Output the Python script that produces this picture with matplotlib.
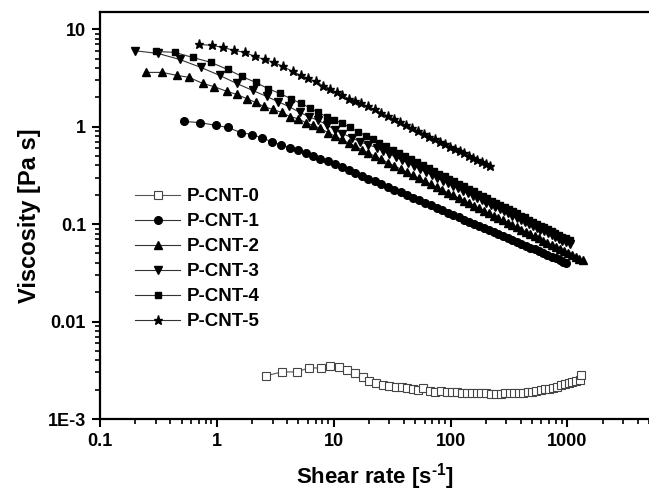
import numpy as np
import matplotlib
matplotlib.use("Agg")
import matplotlib.pyplot as plt
from matplotlib.ticker import LogLocator, NullFormatter

plt.rcParams['font.family'] = ['Liberation Sans', 'DejaVu Sans']
plt.rcParams['font.weight'] = 'bold'
plt.rcParams['mathtext.fontset'] = 'custom'
plt.rcParams['mathtext.rm'] = 'Liberation Sans:bold'
plt.rcParams['mathtext.bf'] = 'Liberation Sans:bold'

# P-CNT-0 (open squares)
x0 = [2.62, 3.59, 4.83, 6.11, 7.74, 9.24, 11.0, 12.9, 15.1, 17.7, 19.9, 22.9, 26.2, 29.5,
      33.9, 38.1, 42.1, 47.3, 53.2, 58.7, 66.2, 73.0, 82.2, 92.5, 102, 113, 125, 138, 152,
      167, 184, 202, 222, 244, 268, 294, 322, 352, 385, 420, 458, 499, 543, 590, 640, 694,
      752, 814, 880, 950, 1025, 1105, 1190, 1290, 1310]
y0 = [0.00277, 0.00304, 0.00304, 0.00334, 0.00334, 0.00351, 0.00342, 0.00319, 0.00297,
      0.00270, 0.00246, 0.00234, 0.00224, 0.00218, 0.00213, 0.00213, 0.00208, 0.00203,
      0.00199, 0.00208, 0.00194, 0.00190, 0.00194, 0.00190, 0.00189, 0.00188, 0.00186,
      0.00186, 0.00185, 0.00184, 0.00183, 0.00183, 0.00182, 0.00182, 0.00182, 0.00183,
      0.00184, 0.00185, 0.00186, 0.00187, 0.00189, 0.00191, 0.00194, 0.00197, 0.00201,
      0.00205, 0.00210, 0.00215, 0.00221, 0.00227, 0.00233, 0.00240, 0.00247, 0.00252,
      0.00280]

# P-CNT-1 (filled circles)
x1 = [0.52, 0.72, 0.98, 1.24, 1.60, 1.99, 2.42, 2.95, 3.52, 4.2, 4.92, 5.77, 6.62, 7.7, 8.9,
      10.2, 11.7, 13.4, 15.3, 17.4, 19.8, 22.5, 25.5, 29, 33, 37.5, 42.5, 48, 54, 61, 68, 76,
      85, 95, 106, 118, 131, 145, 160, 176, 194, 213, 234, 257, 282, 309, 338, 370, 404, 441,
      481, 524, 570, 620, 674, 732, 794, 861, 920, 980]
y1 = [1.13, 1.10, 1.03, 0.98, 0.87, 0.83, 0.77, 0.70, 0.65, 0.61, 0.57, 0.54, 0.50, 0.47, 0.44,
      0.410, 0.383, 0.357, 0.334, 0.313, 0.293, 0.274, 0.257, 0.241, 0.226, 0.211, 0.198,
      0.186, 0.175, 0.165, 0.156, 0.147, 0.139, 0.131, 0.124, 0.117, 0.111, 0.106, 0.100,
      0.0959, 0.0912, 0.0870, 0.0829, 0.0790, 0.0754, 0.0720, 0.0688, 0.0657, 0.0628, 0.0600,
      0.0574, 0.0550, 0.0527, 0.0505, 0.0483, 0.0463, 0.0444, 0.0426, 0.0412, 0.0399]

# P-CNT-2 (up triangles)
x2 = [0.247, 0.339, 0.46, 0.58, 0.76, 0.94, 1.22, 1.48, 1.80, 2.15, 2.52, 3.01, 3.59, 4.2,
      4.92, 5.77, 6.62, 7.7, 8.9, 10.2, 11.7, 13.4, 15.3, 17.4, 19.8, 22.5, 25.5, 29, 33,
      37.5, 42.5, 48, 54, 61, 68, 76, 85, 95, 106, 118, 131, 145, 160, 176, 194, 213, 234,
      257, 282, 309, 338, 370, 404, 441, 481, 524, 570, 620, 674, 732, 794, 861, 933, 1010,
      1090, 1175, 1260, 1350]
y2 = [3.60, 3.60, 3.35, 3.20, 2.77, 2.58, 2.30, 2.14, 1.94, 1.77, 1.61, 1.50, 1.40, 1.27,
      1.21, 1.10, 1.03, 0.96, 0.87, 0.802, 0.738, 0.681, 0.628, 0.582, 0.538, 0.498, 0.462,
      0.428, 0.396, 0.367, 0.340, 0.316, 0.294, 0.274, 0.256, 0.240, 0.224, 0.210, 0.197,
      0.184, 0.173, 0.163, 0.153, 0.145, 0.137, 0.129, 0.122, 0.115, 0.109, 0.103, 0.0978,
      0.0926, 0.0878, 0.0833, 0.0790, 0.0750, 0.0713, 0.0678, 0.0645, 0.0614, 0.0585,
      0.0557, 0.0531, 0.0506, 0.0483, 0.0462, 0.0443, 0.0428]

# P-CNT-3 (down triangles)
x3 = [0.2, 0.313, 0.48, 0.73, 1.06, 1.48, 2.03, 2.67, 3.32, 4.12, 5.12, 6.1, 7.3, 8.7, 10.2,
      11.9, 14.3, 16.7, 19.5, 23.3, 26.5, 30, 34, 38.5, 43.5, 49, 55, 62, 69, 77, 86, 95,
      105, 116, 128, 141, 155, 170, 186, 203, 222, 242, 264, 287, 312, 339, 368, 399, 432,
      467, 505, 545, 588, 633, 681, 732, 786, 843, 903, 967, 1050]
y3 = [6.0, 5.64, 4.89, 4.05, 3.35, 2.77, 2.35, 2.04, 1.81, 1.61, 1.40, 1.27, 1.16, 1.05, 0.93,
      0.85, 0.77, 0.70, 0.655, 0.61, 0.564, 0.524, 0.486, 0.451, 0.419, 0.391, 0.365, 0.340,
      0.319, 0.298, 0.279, 0.263, 0.247, 0.233, 0.219, 0.206, 0.195, 0.184, 0.175, 0.166,
      0.158, 0.150, 0.142, 0.135, 0.129, 0.122, 0.116, 0.111, 0.106, 0.101, 0.0963, 0.0920,
      0.0879, 0.0840, 0.0803, 0.0769, 0.0736, 0.0705, 0.0676, 0.0649, 0.062]

# P-CNT-4 (filled squares)
x4 = [0.30, 0.437, 0.62, 0.89, 1.24, 1.64, 2.15, 2.73, 3.45, 4.29, 5.22, 6.24, 7.3, 8.7, 10.0,
      11.9, 13.7, 16.0, 18.8, 21.5, 24.5, 28, 32, 36, 41, 46, 52, 58, 65, 72, 80, 89, 98,
      108, 119, 131, 144, 158, 173, 189, 206, 225, 245, 267, 290, 315, 342, 371, 402, 435,
      470, 508, 548, 590, 635, 683, 734, 788, 845, 905, 970, 1050]
y4 = [5.91, 5.78, 5.13, 4.56, 3.86, 3.27, 2.84, 2.46, 2.19, 1.94, 1.73, 1.57, 1.40, 1.27, 1.18,
      1.08, 0.98, 0.89, 0.81, 0.74, 0.684, 0.630, 0.581, 0.540, 0.499, 0.465, 0.431, 0.403,
      0.376, 0.353, 0.330, 0.309, 0.291, 0.274, 0.258, 0.243, 0.230, 0.217, 0.205, 0.194,
      0.184, 0.174, 0.166, 0.157, 0.149, 0.142, 0.135, 0.129, 0.122, 0.117, 0.111, 0.106,
      0.101, 0.0967, 0.0926, 0.0886, 0.0848, 0.0811, 0.0777, 0.0745, 0.0714, 0.068]

# P-CNT-5 (stars)
x5 = [0.70, 0.905, 1.13, 1.40, 1.74, 2.11, 2.57, 3.07, 3.67, 4.46, 5.22, 6.0, 7.0, 8.05, 9.24,
      10.6, 11.9, 13.4, 15.1, 17.3, 19.5, 22.4, 25.5, 29, 33, 37, 42, 47, 53, 59, 66, 73, 81,
      90, 99, 109, 120, 131, 143, 156, 170, 185, 201, 219]
y5 = [6.98, 6.82, 6.50, 6.05, 5.78, 5.25, 4.89, 4.56, 4.15, 3.68, 3.35, 3.12, 2.91, 2.64, 2.46,
      2.24, 2.09, 1.94, 1.85, 1.73, 1.61, 1.50, 1.39, 1.29, 1.19, 1.11, 1.03, 0.97, 0.90, 0.85,
      0.79, 0.75, 0.70, 0.66, 0.62, 0.59, 0.56, 0.53, 0.50, 0.48, 0.45, 0.43, 0.41, 0.39]

labels = ['P-CNT-0', 'P-CNT-1', 'P-CNT-2', 'P-CNT-3', 'P-CNT-4', 'P-CNT-5']
xticks = [0.1, 1, 10, 100, 1000]
xticklabels = ['0.1', '1', '10', '100', '1000']
yticks = [1e-3, 0.01, 0.1, 1, 10]
yticklabels = ['1E-3', '0.01', '0.1', '1', '10']

fig = plt.figure(figsize=(6.49, 4.93), dpi=100)
ax = fig.add_axes([100 / 649, 74 / 493, 549 / 649, 407 / 493])

ax.plot(x0, y0, color='#555555', lw=0.8, marker='s', ms=5.2, mfc='white', mec='#444444',
        mew=0.8, label=labels[0])
ax.plot(x1, y1, color='#333333', lw=0.8, marker='o', ms=5.5, mfc='black', mec='black', label=labels[1])
ax.plot(x2, y2, color='#333333', lw=0.8, marker='^', ms=6, mfc='black', mec='black', label=labels[2])
ax.plot(x3, y3, color='#333333', lw=0.8, marker='v', ms=6, mfc='black', mec='black', label=labels[3])
ax.plot(x4, y4, color='#333333', lw=0.8, marker='s', ms=5, mfc='black', mec='black', label=labels[4])
ax.plot(x5, y5, color='#333333', lw=0.8, marker='*', ms=6.5, mfc='black', mec='black', label=labels[5])

ax.set_xscale('log')
ax.set_yscale('log')
ax.set_xlim(0.1, 5000)
ax.set_ylim(1e-3, 15)
ax.set_xticks(xticks)
ax.set_xticklabels(xticklabels)
ax.set_yticks(yticks)
ax.set_yticklabels(yticklabels)
ax.xaxis.set_minor_locator(LogLocator(base=10, subs=np.arange(2, 10), numticks=20))
ax.yaxis.set_minor_locator(LogLocator(base=10, subs=np.arange(2, 10), numticks=20))
ax.xaxis.set_minor_formatter(NullFormatter())
ax.yaxis.set_minor_formatter(NullFormatter())

ax.tick_params(which='major', direction='out', length=6, width=1.5, labelsize=13, pad=4)
ax.tick_params(which='minor', direction='out', length=3.5, width=1.2)
ax.tick_params(top=False, right=False)
for side in ['left', 'bottom', 'top']:
    ax.spines[side].set_linewidth(1.6)
ax.spines['right'].set_visible(False)

ax.set_xlabel(r'Shear rate [s$^{\mathbf{\text{-}1}}$]', fontsize=16, fontweight='bold', labelpad=8)
ax.set_ylabel('Viscosity [Pa s]', fontsize=17, fontweight='bold', labelpad=5)

leg = ax.legend(loc='upper left', bbox_to_anchor=(0.064, 0.567), frameon=False, fontsize=13.5,
                handlelength=2.4, handletextpad=0.35, labelspacing=0.42, borderpad=0,
                borderaxespad=0)

fig.savefig('out.png', dpi=100)
